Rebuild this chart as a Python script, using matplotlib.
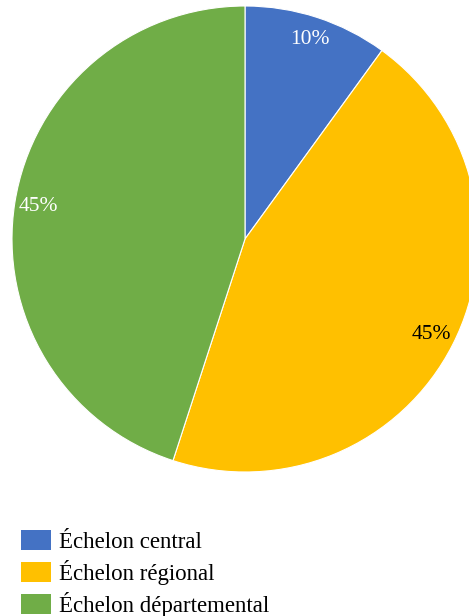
import matplotlib
matplotlib.use("Agg")
import matplotlib.pyplot as plt
from matplotlib.patches import Patch

# data
labels = ["Échelon central", "Échelon régional", "Échelon départemental"]
values = [10, 45, 45]
colors = ["#4472C4", "#FFC000", "#70AD47"]
text_colors = ["white", "black", "white"]

plt.rcParams['font.family'] = ['Liberation Serif', 'DejaVu Serif']

W, H = 469, 616
fig = plt.figure(figsize=(W / 100, H / 100), dpi=100)

# pie centre (245, 239) px from top, radius 233 px
cx, cy, r = 245, 239, 233
ax = fig.add_axes([(cx - r) / W, (H - cy - r) / H, 2 * r / W, 2 * r / H])

wedges, texts, autotexts = ax.pie(
    values, colors=colors, startangle=90, counterclock=False,
    autopct=lambda p: "%d%%" % round(p), pctdistance=0.9,
    wedgeprops=dict(edgecolor="white", linewidth=0.8),
    textprops=dict(fontsize=15.5),
)
for t, c in zip(autotexts, text_colors):
    t.set_color(c)

ax.set_xlim(-1, 1)
ax.set_ylim(-1, 1)
ax.set_aspect("equal")
ax.axis("off")

handles = [Patch(facecolor=c, edgecolor="none") for c in colors]
fig.legend(handles, labels, loc="upper left",
           bbox_to_anchor=(12 / W, 1 - 521 / H), frameon=False,
           fontsize=16.5, handlelength=1.3, handleheight=0.95,
           handletextpad=0.35, labelspacing=0.3, borderaxespad=0)

fig.savefig("out.png", dpi=100)
